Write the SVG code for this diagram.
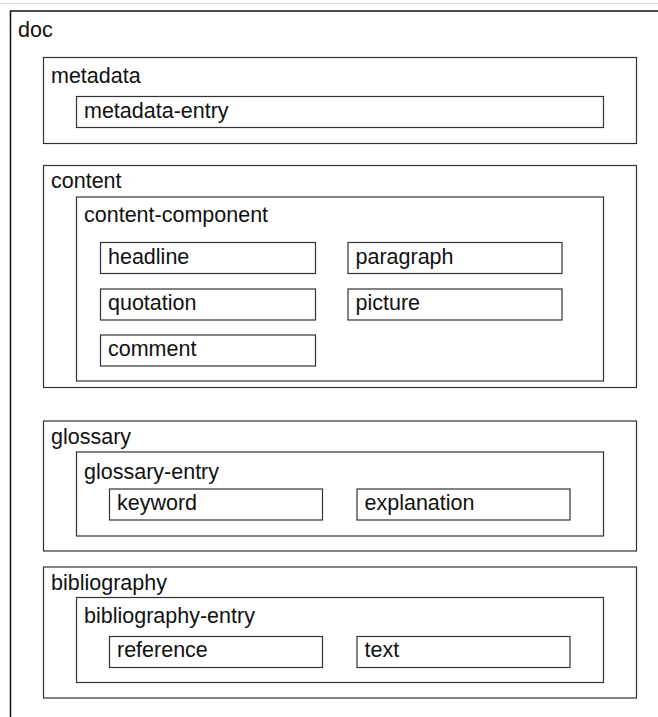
<svg xmlns="http://www.w3.org/2000/svg" width="658" height="717" viewBox="0 0 658 717">
  <style>
    .box { fill: #ffffff; stroke: #333333; stroke-width: 1.2; }
    .outer { fill: #ffffff; stroke: #111111; stroke-width: 1.5; }
    .lbl { font-family: "Liberation Sans", Arial, sans-serif; font-size: 21.5px; fill: #111111; }
  </style>
  <rect x="0" y="0" width="658" height="717" fill="#ffffff"/>
  <line x1="0" y1="3.5" x2="658" y2="3.5" stroke="#dcdcdc" stroke-width="1"/>

  <g id="doc">
    <rect class="outer" x="10.5" y="11" width="700" height="760"/>
    <text class="lbl" x="18" y="37">doc</text>
  </g>

  <g id="metadata">
    <rect class="box" x="43.5" y="57.5" width="593" height="86"/>
    <text class="lbl" x="51" y="83">metadata</text>
  </g>
  <g id="metadata-entry">
    <rect class="box" x="76.5" y="96.5" width="527" height="31"/>
    <text class="lbl" x="84" y="118">metadata-entry</text>
  </g>

  <g id="content">
    <rect class="box" x="43.5" y="165.5" width="593" height="222"/>
    <text class="lbl" x="51" y="188">content</text>
  </g>
  <g id="content-component">
    <rect class="box" x="76.5" y="197" width="527" height="184"/>
    <text class="lbl" x="84" y="221.5">content-component</text>
  </g>
  <g id="headline">
    <rect class="box" x="100.5" y="242.5" width="215" height="31"/>
    <text class="lbl" x="108" y="263.5">headline</text>
  </g>
  <g id="paragraph">
    <rect class="box" x="348" y="242.5" width="214" height="31"/>
    <text class="lbl" x="355.5" y="263.5">paragraph</text>
  </g>
  <g id="quotation">
    <rect class="box" x="100.5" y="289" width="215" height="31"/>
    <text class="lbl" x="108" y="310">quotation</text>
  </g>
  <g id="picture">
    <rect class="box" x="348" y="289" width="214" height="31"/>
    <text class="lbl" x="355.5" y="310">picture</text>
  </g>
  <g id="comment">
    <rect class="box" x="100.5" y="335" width="215" height="31"/>
    <text class="lbl" x="108" y="356">comment</text>
  </g>

  <g id="glossary">
    <rect class="box" x="43.5" y="421" width="593" height="130"/>
    <text class="lbl" x="51" y="443.5">glossary</text>
  </g>
  <g id="glossary-entry">
    <rect class="box" x="76.5" y="452" width="527" height="84"/>
    <text class="lbl" x="84" y="478.5">glossary-entry</text>
  </g>
  <g id="keyword">
    <rect class="box" x="109.5" y="489" width="213" height="31"/>
    <text class="lbl" x="117" y="510">keyword</text>
  </g>
  <g id="explanation">
    <rect class="box" x="357" y="489" width="213" height="31"/>
    <text class="lbl" x="364.5" y="510">explanation</text>
  </g>

  <g id="bibliography">
    <rect class="box" x="43.5" y="567" width="593" height="131"/>
    <text class="lbl" x="51" y="590">bibliography</text>
  </g>
  <g id="bibliography-entry">
    <rect class="box" x="76.5" y="597.5" width="527" height="85"/>
    <text class="lbl" x="84" y="622.5">bibliography-entry</text>
  </g>
  <g id="reference">
    <rect class="box" x="109.5" y="636.5" width="213" height="31"/>
    <text class="lbl" x="117" y="657">reference</text>
  </g>
  <g id="text">
    <rect class="box" x="357" y="636.5" width="213" height="31"/>
    <text class="lbl" x="364.5" y="657">text</text>
  </g>

  <g id="connectors"/>
</svg>
